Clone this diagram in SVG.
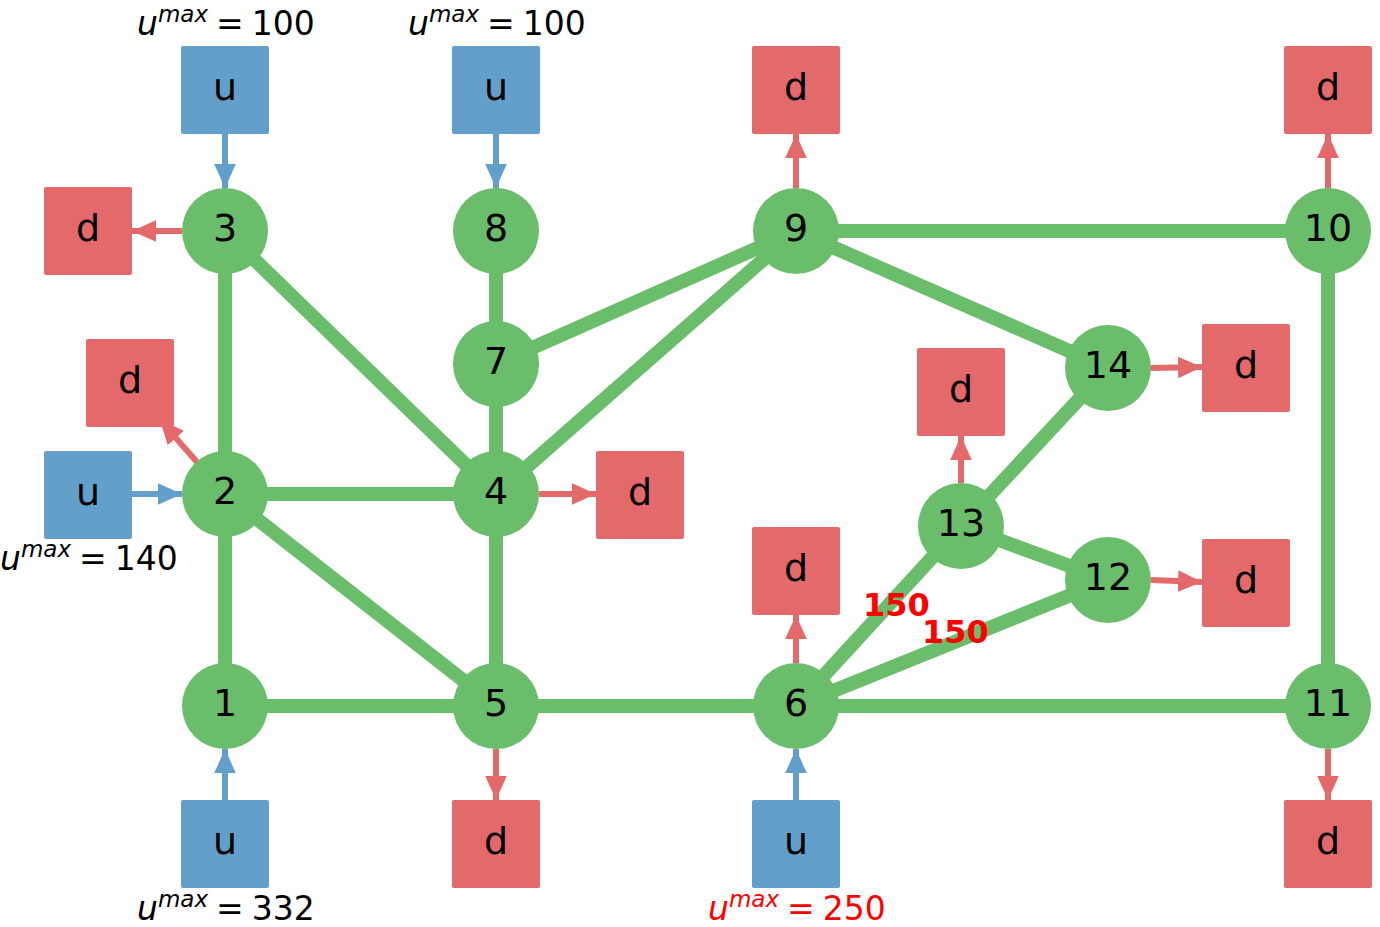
<svg xmlns="http://www.w3.org/2000/svg" width="1380" height="927" viewBox="0 0 1380 927">
<style>
.e{stroke:#6abd6a;stroke-width:14;fill:none}
.n{fill:#6abd6a}
.u{fill:#629fcb}
.d{fill:#e3696a}
.ar{stroke:#e3696a;stroke-width:6;fill:none}
.ab{stroke:#629fcb;stroke-width:6;fill:none}
.t{font-family:"DejaVu Sans",sans-serif;font-size:38px;fill:#000;text-anchor:middle}
.m{font-family:"DejaVu Sans",sans-serif;font-size:33px;fill:#000}
.mr{fill:#ff0000}
.lab{font-family:"DejaVu Sans",sans-serif;font-size:32px;font-weight:bold;fill:#ff0000}
</style>
<defs>
<marker id="hr" markerWidth="4" markerHeight="4" refX="4" refY="2" orient="auto" markerUnits="strokeWidth"><path d="M0,0.2 L4,2 L0,3.8 Z" fill="#e3696a"/></marker>
<marker id="hb" markerWidth="4" markerHeight="4" refX="4" refY="2" orient="auto" markerUnits="strokeWidth"><path d="M0,0.2 L4,2 L0,3.8 Z" fill="#629fcb"/></marker>
</defs>
<rect width="1380" height="927" fill="#fff"/>
<g id="connectors">
<line class="e" x1="225" y1="231" x2="225" y2="494"/>
<line class="e" x1="225" y1="231" x2="496" y2="494"/>
<line class="e" x1="496" y1="231" x2="496" y2="364"/>
<line class="e" x1="496" y1="364" x2="496" y2="494"/>
<line class="e" x1="496" y1="364" x2="796" y2="231"/>
<line class="e" x1="496" y1="494" x2="796" y2="231"/>
<line class="e" x1="796" y1="231" x2="1328" y2="231"/>
<line class="e" x1="796" y1="231" x2="1108" y2="368"/>
<line class="e" x1="1328" y1="231" x2="1328" y2="706"/>
<line class="e" x1="225" y1="494" x2="496" y2="494"/>
<line class="e" x1="225" y1="494" x2="225" y2="706"/>
<line class="e" x1="225" y1="494" x2="496" y2="706"/>
<line class="e" x1="496" y1="494" x2="496" y2="706"/>
<line class="e" x1="225" y1="706" x2="496" y2="706"/>
<line class="e" x1="496" y1="706" x2="796" y2="706"/>
<line class="e" x1="796" y1="706" x2="1328" y2="706"/>
<line class="e" x1="796" y1="706" x2="961" y2="526"/>
<line class="e" x1="796" y1="706" x2="1108" y2="580"/>
<line class="e" x1="961" y1="526" x2="1108" y2="368"/>
<line class="e" x1="961" y1="526" x2="1108" y2="580"/>
<line class="ab" x1="225" y1="134" x2="225" y2="188" marker-end="url(#hb)"/>
<line class="ab" x1="496" y1="134" x2="496" y2="188" marker-end="url(#hb)"/>
<line class="ab" x1="132" y1="494" x2="182" y2="494" marker-end="url(#hb)"/>
<line class="ab" x1="225" y1="800" x2="225" y2="749" marker-end="url(#hb)"/>
<line class="ab" x1="796" y1="800" x2="796" y2="749" marker-end="url(#hb)"/>
<line class="ar" x1="182" y1="231" x2="132" y2="231" marker-end="url(#hr)"/>
<line class="ar" x1="197" y1="462" x2="160" y2="420" marker-end="url(#hr)"/>
<line class="ar" x1="539" y1="494" x2="596" y2="494" marker-end="url(#hr)"/>
<line class="ar" x1="796" y1="188" x2="796" y2="134" marker-end="url(#hr)"/>
<line class="ar" x1="1328" y1="188" x2="1328" y2="134" marker-end="url(#hr)"/>
<line class="ar" x1="1151" y1="368" x2="1202" y2="367" marker-end="url(#hr)"/>
<line class="ar" x1="961" y1="483" x2="961" y2="436" marker-end="url(#hr)"/>
<line class="ar" x1="796" y1="663" x2="796" y2="615" marker-end="url(#hr)"/>
<line class="ar" x1="1151" y1="580" x2="1202" y2="582" marker-end="url(#hr)"/>
<line class="ar" x1="496" y1="749" x2="496" y2="800" marker-end="url(#hr)"/>
<line class="ar" x1="1328" y1="749" x2="1328" y2="800" marker-end="url(#hr)"/>
<text class="lab" x="863" y="616">150</text>
<text class="lab" x="922" y="643">150</text>
</g>
<g id="n3"><circle class="n" cx="225" cy="231" r="43"/><text class="t" x="225" y="241">3</text></g>
<g id="n8"><circle class="n" cx="496" cy="231" r="43"/><text class="t" x="496" y="241">8</text></g>
<g id="n9"><circle class="n" cx="796" cy="231" r="43"/><text class="t" x="796" y="241">9</text></g>
<g id="n10"><circle class="n" cx="1328" cy="231" r="43"/><text class="t" x="1328" y="241">10</text></g>
<g id="n7"><circle class="n" cx="496" cy="364" r="43"/><text class="t" x="496" y="374">7</text></g>
<g id="n14"><circle class="n" cx="1108" cy="368" r="43"/><text class="t" x="1108" y="378">14</text></g>
<g id="n2"><circle class="n" cx="225" cy="494" r="43"/><text class="t" x="225" y="504">2</text></g>
<g id="n4"><circle class="n" cx="496" cy="494" r="43"/><text class="t" x="496" y="504">4</text></g>
<g id="n13"><circle class="n" cx="961" cy="526" r="43"/><text class="t" x="961" y="536">13</text></g>
<g id="n12"><circle class="n" cx="1108" cy="580" r="43"/><text class="t" x="1108" y="590">12</text></g>
<g id="n1"><circle class="n" cx="225" cy="706" r="43"/><text class="t" x="225" y="716">1</text></g>
<g id="n5"><circle class="n" cx="496" cy="706" r="43"/><text class="t" x="496" y="716">5</text></g>
<g id="n6"><circle class="n" cx="796" cy="706" r="43"/><text class="t" x="796" y="716">6</text></g>
<g id="n11"><circle class="n" cx="1328" cy="706" r="43"/><text class="t" x="1328" y="716">11</text></g>
<g id="u3"><rect class="u" x="181" y="46" width="88" height="88" rx="2"/><text class="t" x="225" y="100">u</text></g>
<g id="u8"><rect class="u" x="452" y="46" width="88" height="88" rx="2"/><text class="t" x="496" y="100">u</text></g>
<g id="d9"><rect class="d" x="752" y="46" width="88" height="88" rx="2"/><text class="t" x="796" y="100">d</text></g>
<g id="d10"><rect class="d" x="1284" y="46" width="88" height="88" rx="2"/><text class="t" x="1328" y="100">d</text></g>
<g id="d3"><rect class="d" x="44" y="187" width="88" height="88" rx="2"/><text class="t" x="88" y="241">d</text></g>
<g id="d2"><rect class="d" x="86" y="339" width="88" height="88" rx="2"/><text class="t" x="130" y="393">d</text></g>
<g id="u2"><rect class="u" x="44" y="451" width="88" height="88" rx="2"/><text class="t" x="88" y="505">u</text></g>
<g id="d4"><rect class="d" x="596" y="451" width="88" height="88" rx="2"/><text class="t" x="640" y="505">d</text></g>
<g id="d13"><rect class="d" x="917" y="348" width="88" height="88" rx="2"/><text class="t" x="961" y="402">d</text></g>
<g id="d14"><rect class="d" x="1202" y="324" width="88" height="88" rx="2"/><text class="t" x="1246" y="378">d</text></g>
<g id="d6"><rect class="d" x="752" y="527" width="88" height="88" rx="2"/><text class="t" x="796" y="581">d</text></g>
<g id="d12"><rect class="d" x="1202" y="539" width="88" height="88" rx="2"/><text class="t" x="1246" y="593">d</text></g>
<g id="u1"><rect class="u" x="181" y="800" width="88" height="88" rx="2"/><text class="t" x="225" y="854">u</text></g>
<g id="d5"><rect class="d" x="452" y="800" width="88" height="88" rx="2"/><text class="t" x="496" y="854">d</text></g>
<g id="u6"><rect class="u" x="752" y="800" width="88" height="88" rx="2"/><text class="t" x="796" y="854">u</text></g>
<g id="d11"><rect class="d" x="1284" y="800" width="88" height="88" rx="2"/><text class="t" x="1328" y="854">d</text></g>
<g id="umax">
<text class="m" x="137" y="35"><tspan font-style="italic">u</tspan><tspan font-style="italic" font-size="23" dy="-13">max</tspan><tspan dy="13" dx="8">=</tspan><tspan dx="8">100</tspan></text>
<text class="m" x="408" y="35"><tspan font-style="italic">u</tspan><tspan font-style="italic" font-size="23" dy="-13">max</tspan><tspan dy="13" dx="8">=</tspan><tspan dx="8">100</tspan></text>
<text class="m" x="0" y="570"><tspan font-style="italic">u</tspan><tspan font-style="italic" font-size="23" dy="-13">max</tspan><tspan dy="13" dx="8">=</tspan><tspan dx="8">140</tspan></text>
<text class="m" x="137" y="920"><tspan font-style="italic">u</tspan><tspan font-style="italic" font-size="23" dy="-13">max</tspan><tspan dy="13" dx="8">=</tspan><tspan dx="8">332</tspan></text>
<text class="m mr" x="708" y="920"><tspan font-style="italic">u</tspan><tspan font-style="italic" font-size="23" dy="-13">max</tspan><tspan dy="13" dx="8">=</tspan><tspan dx="8">250</tspan></text>
</g>
</svg>
